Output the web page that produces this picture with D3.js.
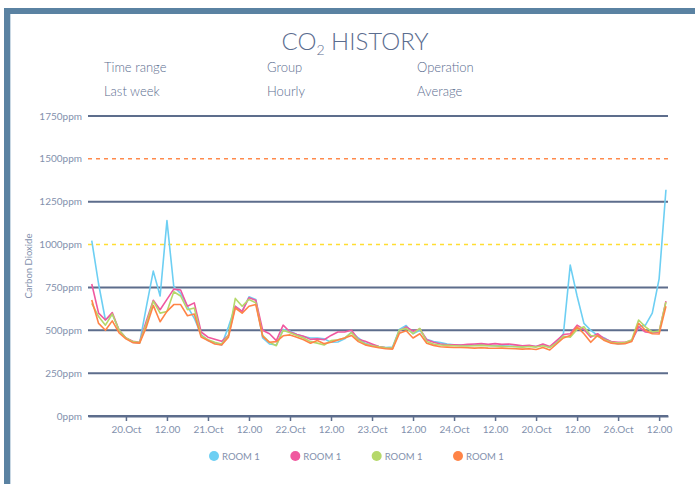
<!DOCTYPE html>
<html>
<head>
<meta charset="utf-8">
<script src="https://cdn.jsdelivr.net/npm/d3@7"></script>
<style>
  html, body { margin: 0; padding: 0; background: #fff; }
  svg { display: block; font-family: Lato, 'Noto Sans', sans-serif; }
</style>
</head>
<body>
<div class="chart"></div>
<script>
const WIDTH = 695
const HEIGHT = 484

// hours since 20 Oct 00:00, one reading every 2 hours
const hours = d3.range(-10, 159, 2)

const room1Cyan = [
  1023, 770, 560, 595, 500,
  455, 430, 425, 640, 845, 700, 1140, 754, 715, 640, 570, 475,
  440, 424, 415, 520, 640, 610, 695, 680, 455, 420, 414, 505,
  495, 475, 463, 455, 455, 450, 430, 432, 450, 490, 455, 425,
  412, 405, 400, 402, 505, 528, 480, 500, 447, 434, 428, 420,
  416, 414, 412, 414, 415, 412, 410, 410, 408, 406, 404, 408,
  405, 415, 400, 430, 480, 880, 700, 540, 500, 470, 455, 430,
  420, 425, 440, 520, 530, 600, 800, 1320
]
const room1Pink = [
  770, 600, 560, 603, 500,
  455, 436, 430, 555, 675, 620, 680, 740, 735, 640, 660, 490,
  460, 448, 436, 470, 640, 610, 690, 675, 500, 480, 440, 530,
  490, 475, 465, 447, 450, 445, 470, 490, 490, 500, 447, 436,
  420, 405, 398, 395, 495, 520, 495, 508, 445, 430, 420, 415,
  416, 414, 418, 420, 422, 418, 422, 418, 420, 415, 410, 412,
  405, 420, 405, 440, 475, 480, 530, 505, 460, 480, 450, 435,
  430, 430, 440, 520, 490, 485, 490, 670
]
const room1Green = [
  657, 580, 530, 595, 500,
  455, 434, 428, 540, 670, 600, 610, 725, 700, 620, 630, 470,
  445, 430, 420, 470, 686, 640, 680, 660, 470, 430, 410, 500,
  485, 470, 455, 434, 425, 414, 440, 445, 455, 486, 443, 420,
  410, 404, 398, 396, 502, 511, 480, 511, 434, 420, 414, 412,
  410, 408, 408, 410, 412, 410, 408, 406, 405, 404, 402, 405,
  402, 410, 400, 425, 465, 460, 505, 520, 470, 465, 445, 430,
  425, 428, 445, 560, 520, 490, 495, 665
]
const room1Orange = [
  677, 540, 500, 555, 485,
  450, 428, 425, 520, 645, 550, 610, 650, 650, 585, 595, 460,
  440, 420, 414, 460, 630, 600, 640, 650, 465, 430, 434, 468,
  473, 460, 445, 424, 440, 422, 430, 443, 455, 470, 434, 415,
  405, 398, 392, 390, 482, 497, 455, 480, 424, 412, 404, 402,
  400, 400, 398, 396, 398, 396, 395, 396, 394, 392, 390, 392,
  388, 400, 385, 420, 455, 470, 520, 480, 430, 470, 440, 425,
  420, 422, 435, 540, 500, 480, 478, 640
]

const seriesNames = ['ROOM 1', 'ROOM 1', 'ROOM 1', 'ROOM 1']
const seriesColors = ['#6dcff3', '#f0589f', '#b5d86a', '#ff8447']
const seriesValues = [room1Cyan, room1Pink, room1Green, room1Orange]

const yTicks = [0, 250, 500, 750, 1000, 1250, 1500, 1750]
const xTickHours = [0, 12, 24, 36, 48, 60, 72, 84, 96, 108, 120, 132, 144, 156]
const xTickLabels = ['20.Oct', '12.00', '21.Oct', '12.00', '22.Oct', '12.00', '23.Oct',
  '12.00', '24.Oct', '12.00', '20.Oct', '12.00', '26.Oct', '12.00']

const infoHeads = ['Time range', 'Group', 'Operation']
const infoValues = ['Last week', 'Hourly', 'Average']
const INFO_X = [104, 267, 417]

const TEXT_DARK = '#5b6d8f'
const TEXT_LIGHT = '#8391ad'
const GRID = '#5d6d8c'

const svg = d3.select('.chart')
  .append('svg')
  .attr('width', WIDTH)
  .attr('height', HEIGHT)

// frame
svg.append('rect').attr('x', 4).attr('y', 8).attr('width', WIDTH - 4).attr('height', 6).attr('fill', '#5a82a2')
svg.append('rect').attr('x', 4).attr('y', 8).attr('width', 6).attr('height', HEIGHT - 8).attr('fill', '#5a82a2')
svg.append('line').attr('x1', 10.5).attr('x2', 10.5).attr('y1', 14).attr('y2', HEIGHT)
  .attr('stroke', '#c9d8e4').attr('stroke-width', 1)

// title
const title = svg.append('text')
  .attr('x', 355)
  .attr('y', 50)
  .attr('text-anchor', 'middle')
  .attr('fill', TEXT_DARK)
  .attr('font-size', 24)
  .attr('font-weight', 300)
title.append('tspan').text('CO')
title.append('tspan').attr('font-size', 14).attr('dy', 5).text('2')
title.append('tspan').attr('dy', -5).text(' HISTORY')

infoHeads.forEach((h, i) => {
  svg.append('text').attr('x', INFO_X[i]).attr('y', 72)
    .attr('fill', TEXT_DARK).attr('font-size', 13).attr('font-weight', 300).text(h)
  svg.append('text').attr('x', INFO_X[i]).attr('y', 96)
    .attr('fill', TEXT_DARK).attr('font-size', 13).attr('font-weight', 300).text(infoValues[i])
})

const x = d3.scaleLinear().domain([-11.1, 158.6]).range([88, 668])
const y = d3.scaleLinear().domain([0, 1750]).range([416, 116])

// grid + y labels
const grid = svg.append('g')
yTicks.forEach(v => {
  const dashed = v === 1500 || v === 1000
  grid.append('line')
    .attr('x1', x.range()[0]).attr('x2', x.range()[1])
    .attr('y1', y(v)).attr('y2', y(v))
    .attr('stroke', v === 1500 ? '#ff8a4c' : v === 1000 ? '#ffdd33' : GRID)
    .attr('stroke-width', dashed ? 1.5 : 2)
    .attr('stroke-dasharray', dashed ? '4,4' : null)
  grid.append('text')
    .attr('x', 82).attr('y', y(v) + 3.5)
    .attr('text-anchor', 'end')
    .attr('fill', TEXT_LIGHT)
    .attr('font-size', 10)
    .text(v + 'ppm')
})

svg.append('text')
  .attr('transform', `translate(32, ${y(875)}) rotate(-90)`)
  .attr('text-anchor', 'middle')
  .attr('fill', TEXT_LIGHT)
  .attr('font-size', 9.5)
  .text('Carbon Dioxide')

// x axis
const xAxis = d3.axisBottom(x)
  .tickValues(xTickHours)
  .tickFormat((d, i) => xTickLabels[i])
  .tickSize(5)
  .tickSizeOuter(0)
const axisG = svg.append('g')
  .attr('transform', `translate(0, ${y(0)})`)
  .call(xAxis)
axisG.select('.domain').attr('stroke', GRID).attr('stroke-width', 2)
axisG.selectAll('.tick line').attr('stroke', GRID).attr('stroke-width', 1.5)
axisG.selectAll('.tick text')
  .attr('fill', TEXT_LIGHT)
  .attr('font-size', 10)
  .attr('font-family', 'Lato, sans-serif')
  .attr('dy', '0.9em')

// lines
const line = d3.line()
  .x((d, i) => x(hours[i]))
  .y(d => y(d))

svg.append('g')
  .selectAll('path')
  .data(seriesValues)
  .join('path')
  .attr('fill', 'none')
  .attr('stroke', (d, i) => seriesColors[i])
  .attr('stroke-width', 1.6)
  .attr('stroke-linejoin', 'round')
  .attr('d', line)

// legend
const legendX = d3.scaleLinear().domain([0, 3]).range([214, 458])
const legend = svg.append('g')
seriesNames.forEach((name, i) => {
  legend.append('circle')
    .attr('cx', legendX(i)).attr('cy', 456).attr('r', 5)
    .attr('fill', seriesColors[i])
  legend.append('text')
    .attr('x', legendX(i) + 8).attr('y', 459.5)
    .attr('fill', TEXT_LIGHT)
    .attr('font-size', 9.5)
    .text(name)
})
</script>
</body>
</html>
